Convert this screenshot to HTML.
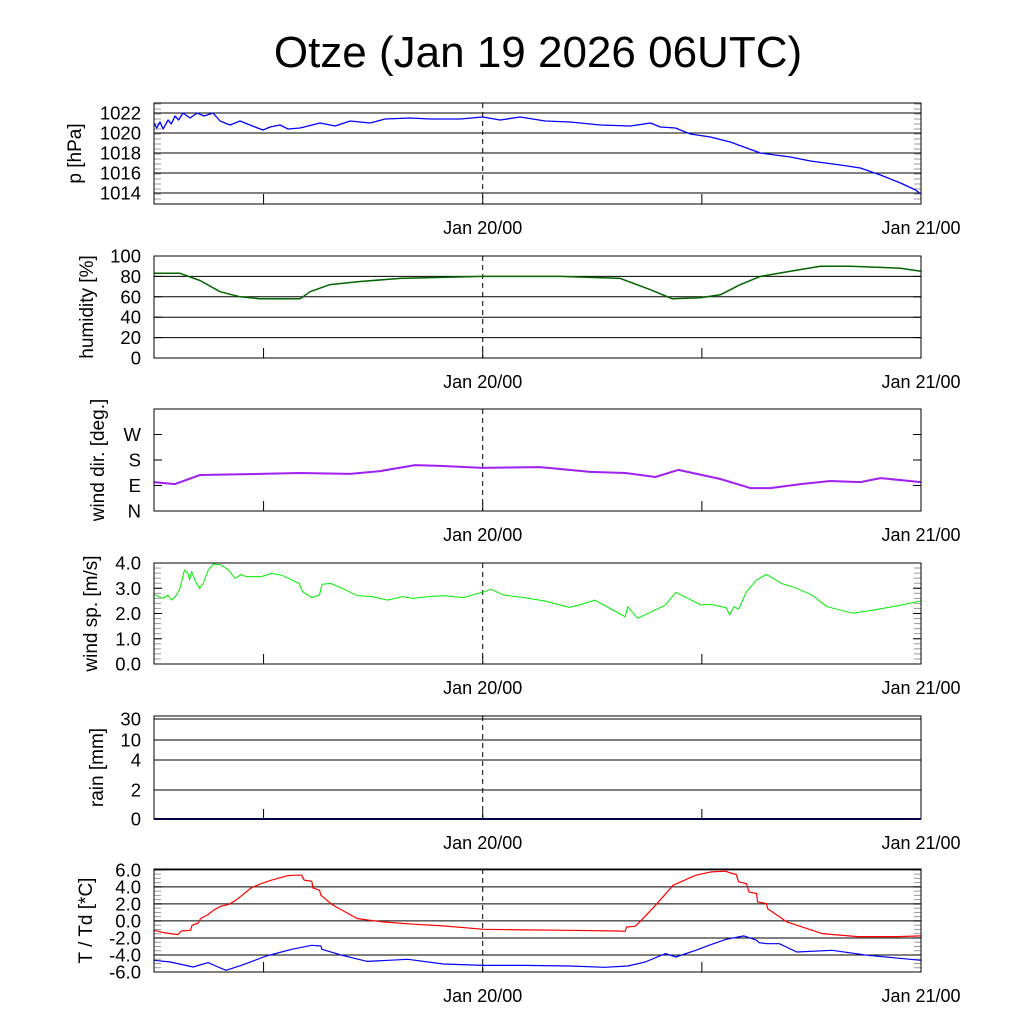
<!DOCTYPE html>
<html><head><meta charset="utf-8">
<style>
body{margin:0;background:#fff;}
svg{display:block;font-family:"Liberation Sans",sans-serif;}
</style></head>
<body>
<svg id="chart" width="1024" height="1024" viewBox="0 0 1024 1024">
<text x="538" y="67" font-size="44" text-anchor="middle">Otze (Jan 19 2026 06UTC)</text>
</svg>
<script>
// time in hours since Jan 19 06UTC
const pTime=[0,0.15,0.33,0.5,0.77,0.95,1.15,1.35,1.59,1.97,2.36,2.74,3.23,3.62,4.16,4.71,5.53,5.97,6.36,6.9,7.34,8.0,9.1,9.92,10.74,11.84,12.66,14.03,15.12,16.77,18,18.96,20.05,21.42,22.79,24.44,26.08,27.18,27.73,28.55,29.37,30.47,31.56,33.2,34.85,35.95,37.59,38.68,39.78,40.88,41.7,42];
const pVals=[1021.0,1020.5,1021.1,1020.4,1021.3,1020.9,1021.7,1021.3,1022.0,1021.5,1022.0,1021.7,1022.0,1021.2,1020.8,1021.2,1020.6,1020.3,1020.6,1020.8,1020.4,1020.5,1021.0,1020.7,1021.2,1021.0,1021.4,1021.5,1021.4,1021.4,1021.6,1021.3,1021.6,1021.2,1021.1,1020.8,1020.7,1021.0,1020.6,1020.5,1019.9,1019.6,1019.1,1018.0,1017.6,1017.2,1016.8,1016.5,1015.8,1015.0,1014.3,1013.9];
const hTime=[0,1.42,2.52,3.62,4.71,5.81,8.0,8.55,9.64,11.29,13.48,15.67,18,22.25,25.53,27.18,28.38,29.92,31.01,32.11,33.2,34.85,36.49,38.14,40.88,42];
const hVals=[83,83,76,65,60,58,58,65,72,75,78,79,80,80,78,67,58,59,62,72,80,85,90,90,88,85];
const dTime=[0,1.15,2.52,5.81,8.0,10.74,12.38,14.3,15.67,18,21.15,23.89,25.81,27.45,28.71,31.01,32.66,33.75,35.4,37.04,38.68,39.78,42];
const dVals=[102,95,127,131,134,131,141,162,159,152,155,138,134,120,145,113,81,81,95,106,102,116,102];
const sTime=[0,0.48,0.76,0.95,1.17,1.39,1.67,1.86,1.95,2.06,2.28,2.5,2.69,2.97,3.25,3.66,4.08,4.44,4.77,5.04,5.88,6.43,6.98,7.54,7.95,8.14,8.64,9.06,9.2,9.69,10.30,11.13,11.96,12.79,13.62,14.18,15.01,15.84,16.94,18.05,18.46,19.16,20.26,21.37,22.75,23.31,24.14,24.97,25.8,25.94,26.49,28.01,28.57,29.95,30.5,31.33,31.53,31.75,32.02,32.44,32.99,33.54,34.37,35.2,36.03,36.86,38.25,39.08,40.74,41.99];
const sVals=[2.76,2.60,2.73,2.53,2.67,2.93,3.72,3.59,3.33,3.66,3.26,3.0,3.19,3.72,3.96,3.92,3.72,3.39,3.55,3.46,3.46,3.59,3.52,3.33,3.19,2.86,2.63,2.73,3.16,3.19,3.0,2.71,2.67,2.53,2.67,2.60,2.67,2.71,2.63,2.86,2.96,2.73,2.63,2.50,2.24,2.34,2.53,2.20,1.87,2.27,1.81,2.34,2.84,2.34,2.36,2.23,1.94,2.27,2.18,2.86,3.33,3.55,3.19,3.0,2.73,2.27,2.01,2.10,2.31,2.50];
const rTime=[0,42];
const rVals=[0,0];
const tTime=[0,0.62,1.31,1.5,2.0,2.08,2.42,2.55,2.97,3.25,3.66,4.08,4.49,5.32,5.87,6.43,7.26,7.67,8.09,8.23,8.64,8.70,9.06,9.14,9.75,11.13,12.52,14.18,15.84,18.05,20.26,22.75,25.38,25.80,25.88,26.35,26.63,27.46,28.43,29.67,30.5,31.33,31.47,31.88,32.02,32.44,32.58,32.99,33.05,33.54,33.60,34.65,36.59,38.52,40.74,41.99];
const tVals=[-1.1,-1.41,-1.61,-1.18,-1.1,-0.51,-0.24,0.27,0.75,1.25,1.73,1.92,2.43,3.88,4.39,4.78,5.29,5.37,5.37,4.78,4.67,3.88,3.61,3.02,1.92,0.27,-0.12,-0.39,-0.59,-0.98,-1.06,-1.1,-1.18,-1.22,-0.71,-0.63,-0.04,1.84,4.2,5.37,5.76,5.84,5.69,5.45,4.59,4.39,3.41,3.22,2.24,2.04,1.45,-0.12,-1.49,-1.84,-1.84,-1.76];
const tdTime=[0,0.89,2.14,2.97,3.38,3.94,4.77,6.15,7.54,8.64,9.14,9.2,10.30,11.68,13.9,15.84,18.05,20.26,22.75,24.69,25.94,26.9,28.01,28.57,29.67,30.5,31.33,32.3,32.99,33.13,33.54,34.24,35.2,37.14,39.08,41.99];
const tdVals=[-4.63,-4.82,-5.41,-4.9,-5.29,-5.8,-5.22,-4.12,-3.33,-2.86,-2.94,-3.33,-4.04,-4.75,-4.51,-5.06,-5.22,-5.22,-5.29,-5.45,-5.29,-4.82,-3.84,-4.24,-3.45,-2.78,-2.16,-1.76,-2.27,-2.55,-2.67,-2.67,-3.65,-3.45,-4.04,-4.63];
const pTicks=[1014,1016,1018,1020,1022];
const hTicks=[0,20,40,60,80,100];
const dTicks=[0,90,180,270];
const dTickLabels=["N","E","S","W"];
const sTicks=[0,1,2,3,4];
const rTicks=[0,2,4,10,30];
const tTicks=[-6,-4,-2,0,2,4,6];
const xLabels=["Jan 20/00","Jan 21/00"];
const xLabelHours=[18,42];

const NS="http://www.w3.org/2000/svg";
const svg=document.getElementById('chart');
const X0=154,X1=921,HMAX=42;
const xs=h=>X0+(h/HMAX)*(X1-X0);
function el(tag,attrs,parent){const e=document.createElementNS(NS,tag);for(const k in attrs)e.setAttribute(k,attrs[k]);(parent||svg).appendChild(e);return e;}
function rainScale(v){const kv=[0,2,4,10,30,40],ky=[819,790,760,740,719,716];for(let i=0;i<kv.length-1;i++){if(v<=kv[i+1]){return ky[i]+(v-kv[i])/(kv[i+1]-kv[i])*(ky[i+1]-ky[i]);}}return 716;}

function panel(o){
  const g=el('g',{});
  
  
  const ys=o.scale||(v=>o.bot-(v-o.min)/(o.max-o.min)*(o.bot-o.top));
  if(o.minor){for(let v=o.min;v<=o.max+1e-9;v+=o.minor){const y=ys(v);if(y<o.top-0.5||y>o.bot+0.5)continue;
    el('line',{x1:X0,x2:X0+7,y1:y,y2:y,stroke:'#999','stroke-width':1},g);
    el('line',{x1:X1-7,x2:X1,y1:y,y2:y,stroke:'#999','stroke-width':1},g);}}
  o.ticks.forEach((v,i)=>{const y=ys(v);
    if(o.grid){const gl=el('line',{x1:X0,x2:X1,y1:y,y2:y,stroke:'#000','stroke-width':1},g);
      
      }
    el('line',{x1:X0,x2:X0+8,y1:y,y2:y,stroke:'#000','stroke-width':1},g);
    el('line',{x1:X1-8,x2:X1,y1:y,y2:y,stroke:'#000','stroke-width':1},g);
    const t=el('text',{x:141,y:y+6.5,'font-size':18.5,'text-anchor':'end'},g);
    t.textContent=o.labels?o.labels[i]:(o.fmt?o.fmt(v):v);
    
    
  });
  [6,30].forEach(h=>{el('line',{x1:xs(h),x2:xs(h),y1:o.bot,y2:o.bot-10,stroke:'#000'},g);});
  const dl=el('line',{x1:xs(18),x2:xs(18),y1:o.top,y2:o.bot,stroke:'#000','stroke-dasharray':'5,4'},g);
  
  
  el('line',{x1:xs(18),x2:xs(18),y1:o.bot-8,y2:o.bot,stroke:'#000'},g);
  o.series.forEach(s=>{
    const d=s.t.map((h,i)=>(i?'L':'M')+xs(h).toFixed(1)+','+ys(s.v[i]).toFixed(1)).join(' ');
    const p=el('path',{d:d,fill:'none',stroke:s.color,'stroke-width':s.w||1.3,'stroke-linejoin':'round'},g);
    
    
  });
  const fr=el('rect',{x:X0,y:o.top,width:X1-X0,height:o.bot-o.top,fill:'none',stroke:'#000','stroke-width':1},g);
  
  
  const yl=el('text',{x:0,y:0,'font-size':19,'text-anchor':'middle',transform:`translate(${o.lx},${(o.top+o.bot)/2}) rotate(-90)`},g);
  yl.textContent=o.label;
  
  
  xLabelHours.forEach((h,i)=>{const t=el('text',{x:xs(h),y:o.bot+30,'font-size':18,'text-anchor':'middle'},g);
    t.textContent=xLabels[i];
    
    });
}
panel({name:'pressure',top:103,bot:204,min:1012.9,max:1023,ticks:pTicks,grid:true,minor:0.5,label:'p [hPa]',lx:81,
  series:[{name:'pressure-line',t:pTime,v:pVals,color:'#0000ff'}]});
panel({name:'humidity',top:256,bot:358,min:0,max:100,ticks:hTicks,grid:true,label:'humidity [%]',lx:93,
  series:[{name:'humidity-line',t:hTime,v:hVals,color:'#006400',w:1.5}]});
panel({name:'wind-dir',top:409,bot:511,min:0,max:360,ticks:dTicks,labels:dTickLabels,label:'wind dir. [deg.]',lx:104,
  series:[{name:'wind-dir-line',t:dTime,v:dVals,color:'#a020f0',w:2}]});
panel({name:'wind-speed',top:563,bot:664,min:0,max:4,ticks:sTicks,fmt:v=>v.toFixed(1),minor:0.2,label:'wind sp. [m/s]',lx:97,
  series:[{name:'wind-speed-line',t:sTime,v:sVals,color:'#00ee00',w:1}]});
panel({name:'rain',top:716,bot:819,min:0,max:40,ticks:rTicks,grid:true,scale:rainScale,label:'rain [mm]',lx:103,
  series:[{name:'rain-line',t:rTime,v:rVals,color:'#00008b',w:2}]});
panel({name:'temperature',top:869,bot:972,min:-6,max:6.1,ticks:tTicks,grid:true,minor:0.5,fmt:v=>v.toFixed(1),label:'T / Td [*C]',lx:92,
  series:[{name:'temperature-line',t:tTime,v:tVals,color:'#ff0000',w:1.2},{name:'dewpoint-line',t:tdTime,v:tdVals,color:'#0000ff',w:1.2}]});
</script>
</body></html>
